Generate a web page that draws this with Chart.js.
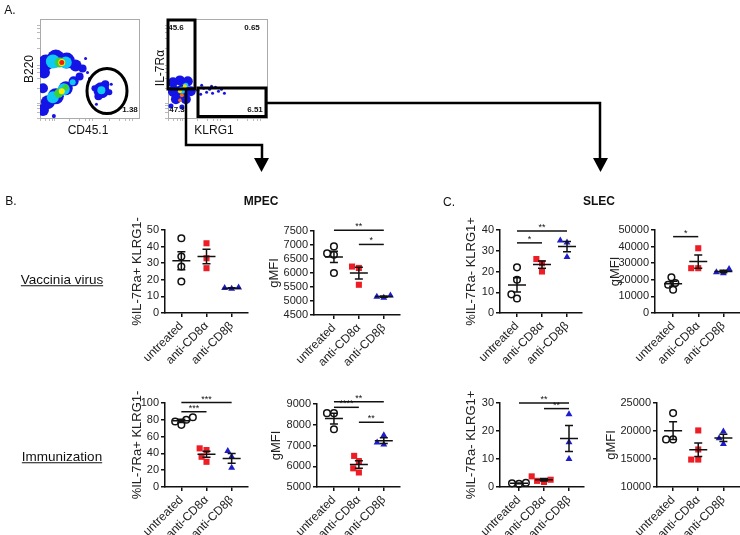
<!DOCTYPE html>
<html>
<head>
<meta charset="utf-8">
<script src="https://cdn.jsdelivr.net/npm/chart.js@4.4.1/dist/chart.umd.min.js"></script>
<style>
  body { margin: 0; background: #fff; width: 740px; height: 535px; position: relative; overflow: hidden;
         font-family: "Liberation Sans", Arial, sans-serif; color: #111; }
  canvas { position: absolute; }
  .t { position: absolute; white-space: nowrap; transform: translate(-50%, -50%); line-height: 1; }
  #deco { position: absolute; left: 0; top: 0; z-index: 2; pointer-events: none; }
  .t { z-index: 3; }
</style>
</head>
<body>
<script>
// ---- data ----
const groups = ['untreated', 'anti-CD8α', 'anti-CD8β'];

// MPEC / SLEC, vaccinia virus row
const mpecVacPct = [[45, 34, 28, 19], [42, 33, 27], [15.3, 14.6, 15]];
const mpecVacMfi = [[6950, 6700, 6650, 6000], [6230, 6180, 5580], [5200, 5150, 5120]];
const slecVacPct = [[22, 16, 9, 7], [26, 24, 20], [35, 34, 27]];
const slecVacMfi = [[21500, 18000, 17000, 14000], [39000, 27000, 27000], [26500, 24500, 24000]];
// immunization row
const mpecImmPct = [[83, 80, 78, 74], [46, 44, 36, 30], [43, 36, 23]];
const mpecImmMfi = [[8560, 8560, 7780], [6500, 6250, 5900, 5700], [7500, 7150, 7050]];
const slecImmPct = [[1.5, 1.3, 1.1], [3.8, 2.6, 2.2, 1.8], [26, 16, 10]];
const slecImmMfi = [[23200, 18500, 18500], [20100, 16700, 14900, 14900], [19900, 18700, 17700]];

// tick labels
const ticksPct50 = [0, 10, 20, 30, 40, 50];
const ticksMfiA = [4500, 5000, 5500, 6000, 6500, 7000, 7500];
const ticksPct40 = [0, 10, 20, 30, 40];
const ticksMfiB = [0, 10000, 20000, 30000, 40000, 50000];
const ticksPct100 = [0, 20, 40, 60, 80, 100];
const ticksMfiC = [5000, 6000, 7000, 8000, 9000];
const ticksPct30 = [0, 10, 20, 30];
const ticksMfiD = [10000, 15000, 20000, 25000];

// flow plots: density blobs [x, y, r] on a 0-100 display scale
const flowTicks = [0, 6, 10, 13, 15, 30, 40, 46, 50, 53, 70, 80, 86, 90, 93];
const cd45Blue = [[6, 56, 8], [16, 60, 9], [27, 58, 8], [36, 53, 6], [43, 50, 4], [4, 46, 6],
                  [3, 8, 6], [8, 16, 7], [16, 22, 8], [26, 30, 7], [34, 37, 5], [40, 42, 4], [3, 30, 5],
                  [62, 28, 8], [59, 22, 4], [66, 34, 4], [70, 26, 3], [55, 30, 3],
                  [48, 46, 1.5], [50, 40, 1.5], [46, 60, 1.5], [72, 34, 1.5], [57, 14, 1.5], [14, 2, 2]];
const cd45Cyan = [[13, 57, 7], [26, 56, 6], [13, 21, 6], [24, 29, 6], [33, 36, 3], [62, 28, 4]];
const cd45Green = [[20, 56, 5], [19, 25, 4.5], [26, 31, 3]];
const cd45Yellow = [[22, 56, 3.5], [22, 27, 3]];
const cd45Red = [[22, 56, 2.5]];

const klrgBlue = [[5, 36, 5], [12, 38, 5], [20, 37, 5], [6, 27, 6], [15, 27, 7], [23, 27, 5],
                  [8, 19, 5], [18, 19, 5], [3, 12, 2.5], [14, 11, 2.5],
                  [30, 28, 1.5], [33, 24, 1.5], [36, 30, 1.5], [39, 26, 1.5], [42, 29, 1.5], [45, 25, 1.5],
                  [48, 31, 1.5], [51, 27, 1.5], [54, 29, 1.5], [57, 25, 1.5], [34, 33, 1.5], [44, 32, 1.5]];
const klrgCyan = [[14, 28, 3.5], [18, 33, 2.5]];
const klrgYellow = [[17, 32, 2], [12, 27, 2]];
const klrgRed = [[14, 23, 2], [12, 18, 1.8]];

// ---- helpers ----
function label(text, cx, cy, size, extra) {
  const d = document.createElement('div');
  d.className = 't';
  d.textContent = text;
  d.style.left = cx + 'px';
  d.style.top = cy + 'px';
  d.style.fontSize = size + 'px';
  if (extra) Object.assign(d.style, extra);
  document.body.appendChild(d);
}

const mean = a => a.reduce((s, v) => s + v, 0) / a.length;
const sem = a => {
  const m = mean(a);
  return Math.sqrt(a.reduce((s, v) => s + (v - m) * (v - m), 0) / (a.length - 1) / a.length);
};

// simple beeswarm: offsets in pixels so markers don't sit on top of each other
function swarm(vals, pxPerUnit) {
  const d = 7;
  const order = vals.map((v, i) => i).sort((a, b) => vals[a] - vals[b]);
  const placed = [];
  const off = new Array(vals.length).fill(0);
  order.forEach(i => {
    const y = vals[i] * pxPerUnit;
    const cands = [0];
    placed.forEach(p => {
      const dy = Math.abs(p.y - y);
      if (dy < d) {
        const dx = Math.sqrt(d * d - dy * dy);
        cands.push(p.x - dx, p.x + dx);
      }
    });
    cands.sort((a, b) => Math.abs(a) - Math.abs(b));
    const x = cands.find(c => placed.every(p => Math.hypot(p.x - c, p.y - y) >= d - 0.01));
    placed.push({ x, y });
    off[i] = x;
  });
  return off;
}

const styles = [
  { pointStyle: 'circle', radius: 3.3, backgroundColor: 'rgba(255,255,255,0)', borderColor: '#111', borderWidth: 1.5 },
  { pointStyle: 'rect', radius: 4.3, backgroundColor: '#ee1c24', borderColor: '#ee1c24', borderWidth: 0 },
  { pointStyle: 'triangle', radius: 4, backgroundColor: '#1d1dcc', borderColor: '#1d1dcc', borderWidth: 0 }
];

const semPlugin = {
  id: 'semBars',
  afterDatasetsDraw(chart, args, opts) {
    const { ctx } = chart;
    const x = chart.scales.x, y = chart.scales.y;
    ctx.save();
    ctx.strokeStyle = '#111';
    ctx.lineWidth = 1.5;
    opts.groups.forEach((vals, g) => {
      const m = mean(vals), e = sem(vals);
      const cx = x.getPixelForValue(g);
      const ym = y.getPixelForValue(m), yt = y.getPixelForValue(m + e), yb = y.getPixelForValue(m - e);
      ctx.beginPath();
      ctx.moveTo(cx - 9, ym); ctx.lineTo(cx + 9, ym);
      ctx.moveTo(cx - 4, yt); ctx.lineTo(cx + 4, yt);
      ctx.moveTo(cx - 4, yb); ctx.lineTo(cx + 4, yb);
      ctx.moveTo(cx, yt); ctx.lineTo(cx, yb);
      ctx.stroke();
    });
    ctx.fillStyle = '#111';
    ctx.font = '9px "Liberation Sans", Arial, sans-serif';
    ctx.textAlign = 'center';
    ctx.textBaseline = 'bottom';
    opts.sig.forEach(([a, b, v, txt]) => {
      const x1 = x.getPixelForValue(a), x2 = x.getPixelForValue(b), yy = y.getPixelForValue(v);
      ctx.beginPath();
      ctx.moveTo(x1, yy); ctx.lineTo(x2, yy);
      ctx.stroke();
      ctx.fillText(txt, (x1 + x2) / 2, yy + 1);
    });
    ctx.restore();
  }
};

function makePanel(p) {
  const PT = 24, PR = 12, XH = 64, CAT = 25;
  const areaW = (p.xmax - p.xmin) * CAT;
  const areaH = p.bottom - p.top;
  const cv = document.createElement('canvas');
  cv.width = Math.round(p.yw + areaW + PR);
  cv.height = Math.round(PT + areaH + XH);
  cv.style.left = Math.round(p.x0 - p.yw) + 'px';
  cv.style.top = Math.round(p.top - PT) + 'px';
  document.body.appendChild(cv);

  const ymin = p.ticks[0], ymax = p.ticks[p.ticks.length - 1];
  const pxPerUnit = areaH / (ymax - ymin);
  const datasets = p.data.map((vals, g) => {
    const off = swarm(vals, pxPerUnit);
    return Object.assign({
      data: vals.map((v, i) => ({ x: g + off[i] / CAT, y: v })),
      clip: false
    }, styles[g]);
  });

  const axisGrid = { drawOnChartArea: false, tickLength: 4, color: '#111', lineWidth: 1.5 };
  const axisBorder = { color: '#111', width: 1.5 };
  new Chart(cv, {
    type: 'scatter',
    data: { datasets },
    options: {
      responsive: false,
      animation: false,
      devicePixelRatio: 1,
      layout: { autoPadding: false, padding: { top: PT, right: PR, left: 0, bottom: 0 } },
      plugins: {
        legend: { display: false },
        tooltip: { enabled: false },
        semBars: { groups: p.data, sig: p.sig }
      },
      scales: {
        x: {
          type: 'linear', min: p.xmin, max: p.xmax,
          afterBuildTicks: s => { s.ticks = groups.map((g, i) => ({ value: i })); },
          afterFit: s => { s.height = XH; },
          ticks: {
            autoSkip: false, minRotation: 45, maxRotation: 45, padding: 2, color: '#222',
            font: { size: 12 }, callback: v => groups[v]
          },
          grid: axisGrid, border: axisBorder
        },
        y: {
          min: ymin, max: ymax,
          afterBuildTicks: s => { s.ticks = p.ticks.map(v => ({ value: v })); },
          afterFit: s => { s.width = p.yw; },
          ticks: { autoSkip: false, padding: 2, color: '#222', font: { size: 11 }, callback: v => String(v) },
          title: { display: true, text: p.title, color: '#222', font: { size: 13 }, padding: { top: 4, bottom: 4 } },
          grid: axisGrid, border: axisBorder
        }
      }
    },
    plugins: [semPlugin]
  });
}

function makeFlow(boxLeft, boxTop, layers) {
  const cv = document.createElement('canvas');
  cv.width = 104; cv.height = 104;
  cv.style.left = (boxLeft - 4) + 'px';
  cv.style.top = (boxTop - 1) + 'px';
  document.body.appendChild(cv);
  const frame = { color: '#aaa', width: 1 };
  const tickGrid = { drawOnChartArea: false, tickLength: 3, color: '#bbb' };
  new Chart(cv, {
    type: 'bubble',
    data: {
      // later layers sit on top: give them a lower draw order
      datasets: layers.map(([pts, color], i) => ({
        data: pts.map(([x, y, r]) => ({ x, y, r })),
        backgroundColor: color, borderWidth: 0, clip: 0, order: layers.length - i
      }))
    },
    options: {
      responsive: false, animation: false, devicePixelRatio: 1,
      layout: { autoPadding: false, padding: { top: 1, right: 1, left: 0, bottom: 0 } },
      plugins: { legend: { display: false }, tooltip: { enabled: false } },
      scales: {
        x: { min: 0, max: 100, ticks: { display: false },
             afterBuildTicks: s => { s.ticks = flowTicks.map(v => ({ value: v })); },
             afterFit: s => { s.height = 4; }, grid: tickGrid, border: frame },
        y: { min: 0, max: 100, ticks: { display: false },
             afterBuildTicks: s => { s.ticks = flowTicks.map(v => ({ value: v })); },
             afterFit: s => { s.width = 4; }, grid: tickGrid, border: frame },
        x2: { position: 'top', min: 0, max: 100, ticks: { display: false },
              grid: { display: false }, afterFit: s => { s.height = 0; }, border: frame },
        y2: { position: 'right', min: 0, max: 100, ticks: { display: false },
              grid: { display: false }, afterFit: s => { s.width = 0; }, border: frame }
      }
    }
  });
}

// ---- flow plots (panel A) ----
makeFlow(40, 19, [
  [cd45Blue, '#1414e6'], [cd45Cyan, '#10c8f4'], [cd45Green, '#38d238'],
  [cd45Yellow, '#f4f000'], [cd45Red, '#f01e0a']
]);
makeFlow(168, 19, [
  [klrgBlue, '#1414e6'], [klrgCyan, '#10c8f4'], [klrgYellow, '#f0e000'], [klrgRed, '#f07010']
]);

// ---- scatter panels (B, C) ----
[
  { data: mpecVacPct, ticks: ticksPct50, title: '%IL-7Ra+ KLRG1-', x0: 165, top: 230, bottom: 313, xmin: -0.65, xmax: 2.65, yw: 39, sig: [] },
  { data: mpecVacMfi, ticks: ticksMfiA, title: 'gMFI', x0: 314, top: 230.5, bottom: 314, xmin: -0.8, xmax: 2.65, yw: 51,
    sig: [[0, 2, 7525, '**'], [1, 2, 7020, '*']] },
  { data: slecVacPct, ticks: ticksPct40, title: '%IL-7Ra- KLRG1+', x0: 500, top: 230, bottom: 313, xmin: -0.68, xmax: 2.6, yw: 40,
    sig: [[0, 2, 39.5, '**'], [0, 1, 33.8, '*']] },
  { data: slecVacMfi, ticks: ticksMfiB, title: 'gMFI', x0: 655, top: 230, bottom: 313, xmin: -0.72, xmax: 2.7, yw: 51,
    sig: [[0, 1, 46000, '*']] },
  { data: mpecImmPct, ticks: ticksPct100, title: '%IL-7Ra+ KLRG1-', x0: 165, top: 403, bottom: 486.5, xmin: -0.65, xmax: 2.65, yw: 39,
    sig: [[0, 2, 100.5, '***'], [0, 1, 89.6, '***']] },
  { data: mpecImmMfi, ticks: ticksMfiC, title: 'gMFI', x0: 317, top: 404, bottom: 486.5, xmin: -0.68, xmax: 2.65, yw: 52,
    sig: [[0, 2, 9110, '**'], [0, 1, 8840, '****'], [1, 2, 8120, '**']] },
  { data: slecImmPct, ticks: ticksPct30, title: '%IL-7Ra- KLRG1+', x0: 500, top: 403, bottom: 486.5, xmin: -0.76, xmax: 2.6, yw: 40,
    sig: [[0, 2, 30, '**'], [1, 2, 28, '**']] },
  { data: slecImmMfi, ticks: ticksMfiD, title: 'gMFI', x0: 657, top: 403, bottom: 486.5, xmin: -0.64, xmax: 2.7, yw: 57, sig: [] }
].forEach(makePanel);

// ---- text ----
label('A.', 10, 10, 12);
label('B.', 11, 201, 12);
label('C.', 449, 202, 12);
label('MPEC', 261, 201, 12, { fontWeight: 'bold' });
label('SLEC', 599, 201, 12, { fontWeight: 'bold' });
label('Vaccinia virus', 62, 280, 13.5, { textDecoration: 'underline' });
label('Immunization', 62, 457, 13.5, { textDecoration: 'underline' });
label('B220', 29, 69, 12, { transform: 'translate(-50%,-50%) rotate(-90deg)' });
label('CD45.1', 88, 130, 12);
label('IL-7Rα', 160, 68, 12, { transform: 'translate(-50%,-50%) rotate(-90deg)' });
label('KLRG1', 214, 130, 12);
label('1.38', 130, 110, 8, { fontWeight: 'bold' });
label('45.6', 176, 28, 8, { fontWeight: 'bold' });
label('0.65', 252, 28, 8, { fontWeight: 'bold' });
label('47.3', 177, 110, 8, { fontWeight: 'bold' });
label('6.51', 255, 110, 8, { fontWeight: 'bold' });
</script>
<svg id="deco" width="740" height="535">
  <g fill="none" stroke="#000" stroke-width="3">
    <ellipse cx="107" cy="91" rx="20" ry="22.5"/>
    <rect x="168" y="20" width="27" height="69"/>
    <rect x="198" y="88" width="68" height="28.5"/>
  </g>
  <g fill="none" stroke="#000" stroke-width="2.5">
    <polyline points="186,89 186,145 262,145 262,160"/>
    <polyline points="266,103 600,103 600,160"/>
  </g>
  <polygon points="254,158 269,158 261.5,172" fill="#000"/>
  <polygon points="593,158 608,158 600.5,172" fill="#000"/>
</svg>
</body>
</html>
